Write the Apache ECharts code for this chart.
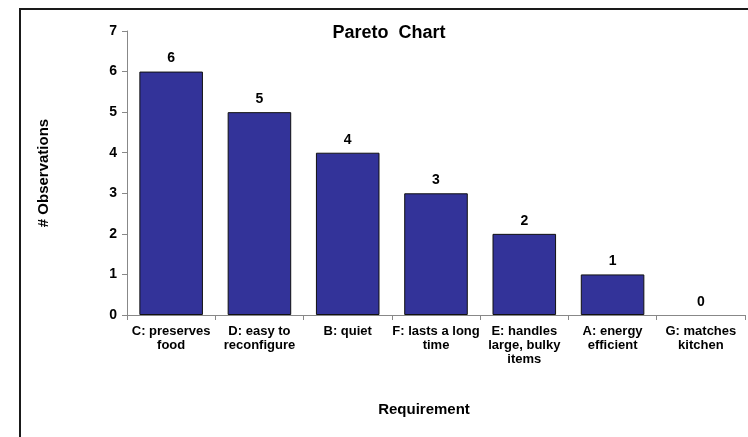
<!DOCTYPE html>
<html>
<head>
<meta charset="utf-8">
<script src="https://cdn.jsdelivr.net/npm/echarts@6/dist/echarts.min.js"></script>
<style>
  html, body { margin: 0; padding: 0; background: #fff; }
  #chart { width: 748px; height: 437px; }
</style>
</head>
<body>
<div id="chart"></div>
<script>
// Requirements, sorted by number of observations
const categories = [
  'C: preserves\nfood',
  'D: easy to\nreconfigure',
  'B: quiet',
  'F: lasts a long\ntime',
  'E: handles\nlarge, bulky\nitems',
  'A: energy\nefficient',
  'G: matches\nkitchen'
];
const observations = [6, 5, 4, 3, 2, 1, 0];
const yTicks = { min: 0, max: 7, interval: 1 };

const chart = echarts.init(document.getElementById('chart'), null, { renderer: 'canvas' });
const font = 'Arial, "Liberation Sans", sans-serif';

// zero-height bars get no outline so nothing shows on the baseline
const barData = observations.map(v => ({
  value: v,
  itemStyle: v === 0 ? { borderWidth: 0 } : {}
}));

chart.setOption({
  animation: false,
  backgroundColor: '#ffffff',
  title: [
    {
      text: 'Pareto  Chart',
      left: 384, top: 19, textAlign: 'center',
      textStyle: { fontFamily: font, fontSize: 18, fontWeight: 'bold', color: '#000' }
    },
    {
      text: 'Requirement',
      left: 419, top: 397, textAlign: 'center',
      textStyle: { fontFamily: font, fontSize: 15, fontWeight: 'bold', color: '#000' }
    }
  ],
  graphic: [
    {
      type: 'rect',
      shape: { x: 20, y: 9, width: 800, height: 500 },
      style: { fill: null, stroke: '#1a1a1a', lineWidth: 2 },
      silent: true
    }
  ],
  grid: { left: 127, right: 3, top: 31, bottom: 122, containLabel: false },
  xAxis: {
    type: 'category',
    data: categories,
    axisLine: { lineStyle: { color: '#888', width: 1 } },
    axisTick: { show: true, alignWithLabel: false, length: 5, lineStyle: { color: '#888' } },
    axisLabel: {
      interval: 0, margin: 9, color: '#000',
      fontFamily: font, fontSize: 13, fontWeight: 'bold', lineHeight: 14
    }
  },
  yAxis: {
    type: 'value',
    min: yTicks.min, max: yTicks.max, interval: yTicks.interval,
    name: '# Observations',
    nameLocation: 'middle',
    nameGap: 76,
    nameRotate: 90,
    nameTextStyle: { fontFamily: font, fontSize: 15, fontWeight: 'bold', color: '#000' },
    axisLine: { show: true, lineStyle: { color: '#888', width: 1 } },
    axisTick: { show: true, length: 5, lineStyle: { color: '#888' } },
    splitLine: { show: false },
    axisLabel: { margin: 10, color: '#000', fontFamily: font, fontSize: 14, fontWeight: 'bold' }
  },
  series: [
    {
      type: 'bar',
      data: barData,
      barCategoryGap: '28%',
      itemStyle: { color: '#333399', borderColor: '#111', borderWidth: 1 },
      label: {
        show: true, position: 'top', distance: 6, color: '#000',
        fontFamily: font, fontSize: 14, fontWeight: 'bold'
      }
    }
  ]
});
</script>
</body>
</html>
